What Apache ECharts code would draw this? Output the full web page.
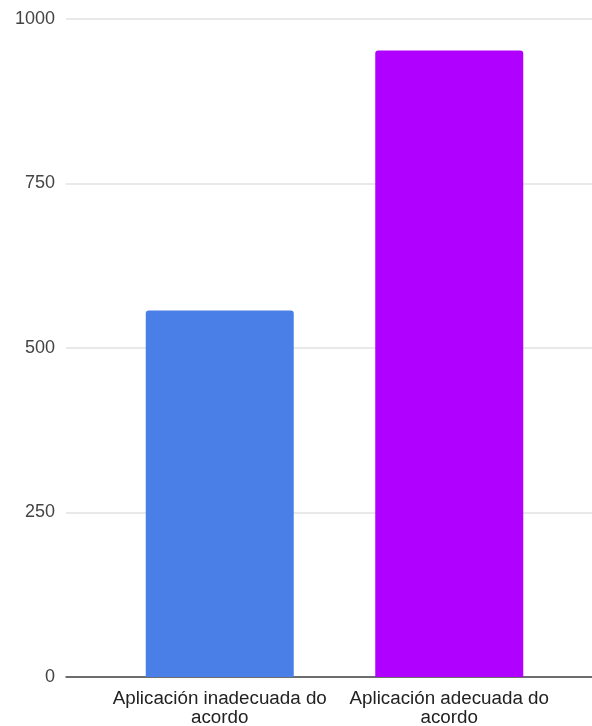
<!DOCTYPE html>
<html>
<head>
<meta charset="utf-8">
<script src="https://cdn.jsdelivr.net/npm/echarts@6/dist/echarts.min.js"></script>
<style>
html,body{margin:0;padding:0;background:#fff;}
#main{width:592px;height:726px;}
</style>
</head>
<body>
<div id="main"></div>
<script>
const categories = ['Aplicación inadecuada do\nacordo', 'Aplicación adecuada do\nacordo'];
const values = [557, 952];
const barColors = ['#4a7fe8', '#b000ff'];
const yTicks = { min: 0, max: 1000, interval: 250 };

const chart = echarts.init(document.getElementById('main'));
const font = 'Liberation Sans, Arial, sans-serif';
chart.setOption({
  animation: false,
  grid: [
    { left: 66, right: 0, top: 19, bottom: 49, outerBoundsMode: 'none', containLabel: false },
    { left: 105, right: 28, top: 19, bottom: 49, outerBoundsMode: 'none', containLabel: false }
  ],
  xAxis: [
    { gridIndex: 0, type: 'value', min: 0, max: 1,
      axisLine: { show: true, lineStyle: { color: '#444', width: 1.5 } },
      axisTick: { show: false }, axisLabel: { show: false }, splitLine: { show: false } },
    { gridIndex: 1, type: 'category', data: categories,
      axisLine: { show: false }, axisTick: { show: false },
      axisLabel: { color: '#222', fontSize: 18.8, fontFamily: font, lineHeight: 19, margin: 12, interval: 0 } }
  ],
  yAxis: [
    { gridIndex: 0, type: 'value', min: yTicks.min, max: yTicks.max, interval: yTicks.interval,
      axisLine: { show: false }, axisTick: { show: false },
      axisLabel: { color: '#444', fontSize: 18, fontFamily: font, margin: 11, formatter: v => String(v) },
      splitLine: { lineStyle: { color: '#e2e2e2', width: 1.5 } } },
    { gridIndex: 1, type: 'value', min: yTicks.min, max: yTicks.max, interval: yTicks.interval,
      show: false, splitLine: { show: false } }
  ],
  series: [{
    type: 'bar', xAxisIndex: 1, yAxisIndex: 1,
    barWidth: 148,
    data: values.map((v, i) => ({ value: v, itemStyle: { color: barColors[i], borderRadius: [3, 3, 0, 0] } }))
  }]
});
</script>
</body>
</html>
